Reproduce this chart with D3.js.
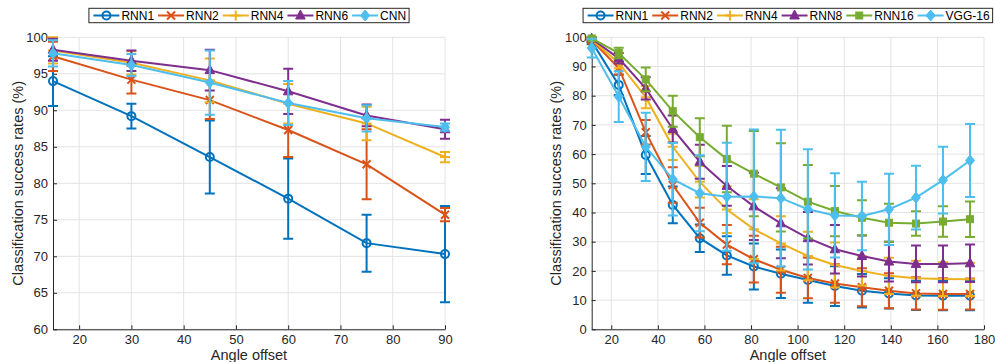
<!DOCTYPE html>
<html>
<head>
<meta charset="utf-8">
<script src="https://cdn.jsdelivr.net/npm/d3@7"></script>
<style>
  body { margin: 0; background: #fff; }
  svg { display: block; font-family: "Liberation Sans", Arial, Helvetica, sans-serif; }
</style>
</head>
<body>
<svg id="chart" width="995" height="362"></svg>
<script>
// Left panel: angle offsets up to 90
const leftAngles = [15, 30, 45, 60, 75, 90];
const leftRnn1 = [94.0, 89.2, 83.6, 77.9, 71.8, 70.3];
const leftRnn1Err = [3.4, 1.7, 5.0, 5.5, 3.9, 6.6];
const leftRnn2 = [97.4, 94.2, 91.4, 87.3, 82.6, 75.7];
const leftRnn2Err = [2.0, 1.9, 2.6, 3.7, 4.8, 0.9];
const leftRnn4 = [98.2, 96.5, 94.1, 90.9, 88.2, 83.6];
const leftRnn4Err = [1.8, 1.6, 3.0, 2.7, 2.3, 0.7];
const leftRnn6 = [98.3, 96.8, 95.5, 92.6, 89.3, 87.4];
const leftRnn6Err = [1.5, 1.4, 2.8, 3.1, 1.5, 1.3];
const leftCnn = [97.8, 96.2, 93.8, 91.0, 88.9, 87.7];
const leftCnnErr = [1.8, 1.5, 4.4, 3.0, 1.8, 0.5];
const leftXTicks = [20, 30, 40, 50, 60, 70, 80, 90];
const leftYTicks = [60, 65, 70, 75, 80, 85, 90, 95, 100];

// Right panel: angle offsets up to 180
const rightAngles = [11.6, 23.2, 34.8, 46.4, 58, 69.6, 81.2, 92.8, 104.4, 116, 127.6, 139.2, 150.8, 162.4, 174];
const rightRnn1 = [98.6, 83.7, 59.7, 42.6, 31.2, 25.3, 21.5, 19.0, 16.9, 14.8, 13.2, 12.3, 11.6, 11.5, 11.5];
const rightRnn1Err = [1.0, 3.5, 6.5, 6.3, 4.7, 6.6, 7.9, 8.3, 7.8, 6.8, 5.7, 5.2, 5.0, 5.0, 5.0];
const rightRnn2 = [99.0, 89.5, 67.5, 49.4, 36.5, 29.0, 24.0, 20.4, 17.6, 15.7, 14.4, 13.2, 12.3, 12.1, 12.1];
const rightRnn2Err = [0.8, 2.2, 4.2, 6.1, 5.1, 6.7, 8.0, 7.9, 7.0, 6.6, 6.5, 6.0, 5.5, 5.4, 5.3];
const rightRnn4 = [99.2, 91.2, 79.5, 62.5, 50.5, 41.0, 34.3, 29.4, 25.1, 22.0, 20.0, 18.3, 17.5, 17.2, 17.1];
const rightRnn4Err = [0.8, 1.8, 3.8, 4.5, 5.4, 8.0, 10.2, 9.3, 8.3, 7.7, 5.0, 6.2, 6.0, 5.8, 5.7];
const rightRnn8 = [99.5, 92.8, 82.5, 68.6, 57.4, 49.1, 42.1, 36.3, 31.2, 27.4, 25.1, 23.2, 22.4, 22.4, 22.6];
const rightRnn8Err = [0.5, 1.8, 3.8, 4.6, 5.8, 6.8, 11.5, 12.0, 9.0, 8.3, 7.0, 6.8, 6.3, 6.3, 6.4];
const rightRnn16 = [99.6, 94.6, 85.6, 74.7, 65.8, 58.3, 53.3, 48.6, 43.7, 40.5, 38.2, 36.5, 36.2, 36.9, 37.7];
const rightRnn16Err = [0.4, 1.8, 4.1, 5.3, 6.5, 11.4, 14.6, 15.1, 12.6, 8.6, 6.0, 6.5, 4.2, 5.2, 6.1];
const rightVgg16 = [96.3, 79.7, 62.5, 51.4, 46.6, 45.4, 45.5, 44.9, 41.1, 39.0, 38.8, 41.1, 45.1, 51.1, 57.8];
const rightVgg16Err = [3.2, 8.7, 11.7, 12.4, 13.0, 18.5, 22.9, 23.4, 20.6, 14.4, 11.7, 12.2, 10.9, 11.4, 12.5];
const rightXTicks = [20, 40, 60, 80, 100, 120, 140, 160, 180];
const rightYTicks = [0, 10, 20, 30, 40, 50, 60, 70, 80, 90, 100];

const AXIS = '#262626';
const GRID = '#e3e3e3';
const BLUE = '#0072BD', ORANGE = '#D95319', YELLOW = '#EDB120';
const PURPLE = '#7E2F8E', GREEN = '#77AC30', CYAN = '#4DBEEE';

const svg = d3.select('#chart');

/**
 * Draws one marker of the given type at the origin of a group.
 */
function marker(g, type, color) {
  if (type === 'circle') {
    g.append('circle').attr('r', 4).attr('fill', 'none').attr('stroke', color).attr('stroke-width', 2);
  } else if (type === 'x') {
    g.append('path').attr('d', 'M-4,-4L4,4M-4,4L4,-4').attr('stroke', color).attr('stroke-width', 2);
  } else if (type === 'plus') {
    g.append('path').attr('d', 'M-5,0H5M0,-5V5').attr('stroke', color).attr('stroke-width', 2);
  } else if (type === 'triangle') {
    g.append('path').attr('d', 'M0,-5.5L4.8,3.5L-4.8,3.5Z').attr('fill', color).attr('stroke', color).attr('stroke-width', 1);
  } else if (type === 'square') {
    g.append('rect').attr('x', -3.5).attr('y', -3.5).attr('width', 7).attr('height', 7)
      .attr('fill', color).attr('stroke', color).attr('stroke-width', 1);
  } else if (type === 'diamond') {
    g.append('path').attr('d', 'M0,-5.5L4.5,0L0,5.5L-4.5,0Z').attr('fill', color).attr('stroke', color).attr('stroke-width', 1);
  }
}

/**
 * Styles a d3 axis group the MATLAB way.
 */
function styleAxis(g) {
  g.attr('font-family', null).attr('font-size', 13);
  g.select('.domain').attr('stroke', AXIS).attr('stroke-width', 1);
  g.selectAll('.tick line').attr('stroke', AXIS).attr('stroke-width', 1);
  g.selectAll('.tick text').attr('fill', AXIS);
}

/**
 * Draws one panel: grid, axes, error-bar series, labels and legend.
 */
function drawPanel(p) {
  const x = d3.scaleLinear().domain(p.xDomain).range([p.left, p.right]);
  const y = d3.scaleLinear().domain(p.yDomain).range([p.bottom, p.top]);
  const g = svg.append('g');

  // Grid lines
  const grid = g.append('g').attr('stroke', GRID).attr('stroke-width', 1);
  grid.selectAll('.gx').data(p.xTicks).join('line')
    .attr('x1', d => x(d)).attr('x2', d => x(d)).attr('y1', p.top).attr('y2', p.bottom);
  grid.selectAll('.gy').data(p.yTicks).join('line')
    .attr('x1', p.left).attr('x2', p.right).attr('y1', d => y(d)).attr('y2', d => y(d));

  // Axes with inward ticks
  g.append('g').attr('transform', `translate(0,${p.bottom})`)
    .call(d3.axisBottom(x).tickValues(p.xTicks).tickSizeInner(-4).tickSizeOuter(0).tickPadding(5))
    .call(styleAxis);
  g.append('g').attr('transform', `translate(${p.left},0)`)
    .call(d3.axisLeft(y).tickValues(p.yTicks).tickSizeInner(-4).tickSizeOuter(0).tickPadding(5))
    .call(styleAxis);

  // Series: line, error bars, markers
  const line = d3.line().x((d, i) => x(p.angles[i])).y(d => y(d));
  p.series.forEach(s => {
    const sg = g.append('g');
    sg.append('path').datum(s.values).attr('d', line)
      .attr('fill', 'none').attr('stroke', s.color).attr('stroke-width', 2);
    sg.append('g').attr('stroke', s.color).attr('stroke-width', 2).attr('fill', 'none')
      .selectAll('path').data(s.values).join('path')
      .attr('d', (d, i) => {
        const px = x(p.angles[i]);
        const hi = y(d + s.errors[i]);
        const lo = y(d - s.errors[i]);
        return `M${px},${hi}V${lo}M${px - 5},${hi}H${px + 5}M${px - 5},${lo}H${px + 5}`;
      });
    sg.selectAll('.m').data(s.values).join('g')
      .attr('transform', (d, i) => `translate(${x(p.angles[i])},${y(d)})`)
      .each(function () { marker(d3.select(this), s.marker, s.color); });
  });

  // Axis labels
  g.append('text').attr('x', (p.left + p.right) / 2).attr('y', 359.5)
    .attr('text-anchor', 'middle').attr('font-size', 14.5).attr('fill', AXIS).text('Angle offset');
  g.append('text').attr('transform', `translate(${p.labelX},${(p.top + p.bottom) / 2}) rotate(-90)`)
    .attr('text-anchor', 'middle').attr('font-size', 14.5).attr('fill', AXIS)
    .text('Classification success rates (%)');

  // Legend above the axes
  const lg = g.append('g');
  const box = lg.append('rect').attr('fill', '#fff').attr('stroke', AXIS).attr('stroke-width', 1);
  let cx = 4.5;
  p.series.forEach(s => {
    const eg = lg.append('g');
    eg.append('line').attr('x1', cx).attr('x2', cx + 26).attr('y1', 15.5).attr('y2', 15.5)
      .attr('stroke', s.color).attr('stroke-width', 2);
    const mg = eg.append('g').attr('transform', `translate(${cx + 13},15.5)`);
    marker(mg, s.marker, s.color);
    const t = eg.append('text').attr('x', cx + 28).attr('y', 15.5).attr('dy', '0.36em')
      .attr('font-size', 12).attr('fill', '#000').text(s.name);
    cx += 28 + t.node().getComputedTextLength() + 4;
  });
  const w = cx - 1;
  box.attr('x', 0).attr('y', 8.3).attr('width', w).attr('height', 14.4);
  lg.attr('transform', `translate(${(p.left + p.right) / 2 - w / 2},0)`);
}

drawPanel({
  left: 53, right: 445, top: 37.3, bottom: 329.3,
  xDomain: [15, 90], yDomain: [60, 100],
  xTicks: leftXTicks, yTicks: leftYTicks,
  angles: leftAngles, labelX: 23,
  series: [
    { name: 'RNN1', color: BLUE, marker: 'circle', values: leftRnn1, errors: leftRnn1Err },
    { name: 'RNN2', color: ORANGE, marker: 'x', values: leftRnn2, errors: leftRnn2Err },
    { name: 'RNN4', color: YELLOW, marker: 'plus', values: leftRnn4, errors: leftRnn4Err },
    { name: 'RNN6', color: PURPLE, marker: 'triangle', values: leftRnn6, errors: leftRnn6Err },
    { name: 'CNN', color: CYAN, marker: 'diamond', values: leftCnn, errors: leftCnnErr }
  ]
});

drawPanel({
  left: 591.7, right: 984, top: 37.3, bottom: 329.3,
  xDomain: [11.6, 180], yDomain: [0, 100],
  xTicks: rightXTicks, yTicks: rightYTicks,
  angles: rightAngles, labelX: 561,
  series: [
    { name: 'RNN1', color: BLUE, marker: 'circle', values: rightRnn1, errors: rightRnn1Err },
    { name: 'RNN2', color: ORANGE, marker: 'x', values: rightRnn2, errors: rightRnn2Err },
    { name: 'RNN4', color: YELLOW, marker: 'plus', values: rightRnn4, errors: rightRnn4Err },
    { name: 'RNN8', color: PURPLE, marker: 'triangle', values: rightRnn8, errors: rightRnn8Err },
    { name: 'RNN16', color: GREEN, marker: 'square', values: rightRnn16, errors: rightRnn16Err },
    { name: 'VGG-16', color: CYAN, marker: 'diamond', values: rightVgg16, errors: rightVgg16Err }
  ]
});
</script>
</body>
</html>
